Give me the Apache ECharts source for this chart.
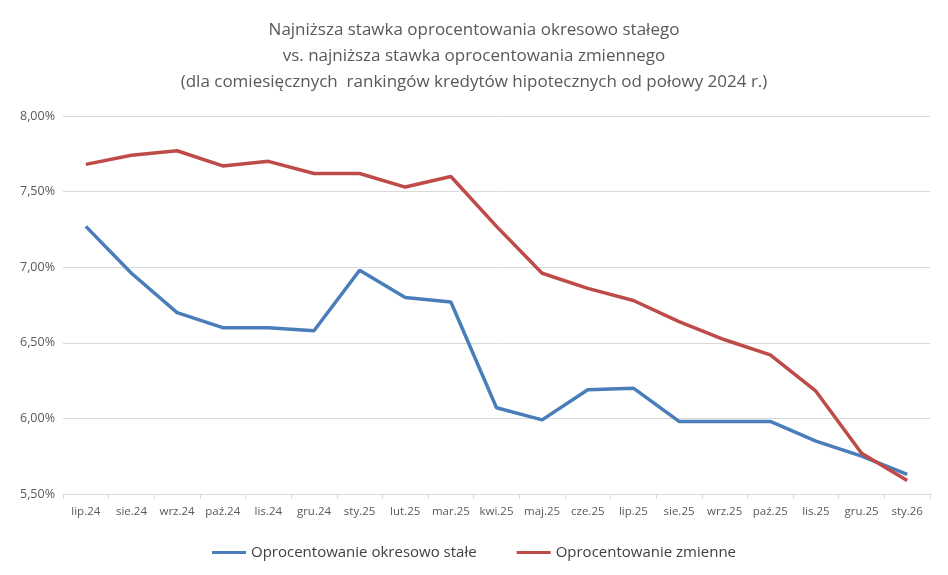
<!DOCTYPE html>
<html><head><meta charset="utf-8">
<script src="https://cdn.jsdelivr.net/npm/echarts@6/dist/echarts.min.js"></script>
<style>html,body{margin:0;background:#fff}#c{width:948px;height:575px}</style>
</head><body><div id="c"></div>
<script>
var months = ['lip.24','sie.24','wrz.24','paź.24','lis.24','gru.24','sty.25','lut.25','mar.25','kwi.25','maj.25','cze.25','lip.25','sie.25','wrz.25','paź.25','lis.25','gru.25','sty.26'];
var fixedRate = [7.27,6.96,6.70,6.60,6.60,6.58,6.98,6.80,6.77,6.07,5.99,6.19,6.20,5.98,5.98,5.98,5.85,5.75,5.63];
var variableRate = [7.68,7.74,7.77,7.67,7.70,7.62,7.62,7.53,7.60,7.27,6.96,6.86,6.78,6.64,6.52,6.42,6.18,5.77,5.59];

var chart = echarts.init(document.getElementById('c'));
chart.setOption({
    textStyle: {fontFamily: 'Open Sans'},
    title: {
        text: 'Najniższa stawka oprocentowania okresowo stałego\nvs. najniższa stawka oprocentowania zmiennego\n(dla comiesięcznych  rankingów kredytów hipotecznych od połowy 2024 r.)',
        left: 'center', top: 12,
        textStyle: {fontSize: 17, fontWeight: 'normal', color: '#595959', lineHeight: 26, fontFamily: 'Open Sans'}
    },
    legend: {
        bottom: 10, itemWidth: 34, itemHeight: 3, itemGap: 40, icon: 'rect',
        textStyle: {fontSize: 15, color: '#404040'}
    },
    grid: {left: 63, right: 18, top: 116, bottom: 81},
    xAxis: {
        type: 'category', data: months, boundaryGap: true,
        axisLine: {lineStyle: {color: '#d9d9d9'}},
        axisTick: {show: true, interval: 0, lineStyle: {color: '#d9d9d9'}},
        axisLabel: {color: '#595959', fontSize: 11.5, interval: 0, margin: 12}
    },
    yAxis: {
        type: 'value', min: 5.5, max: 8, interval: 0.5,
        axisLabel: {color: '#595959', fontSize: 12.5, formatter: function (v) { return v.toFixed(2).replace('.', ',') + '%'; }},
        splitLine: {lineStyle: {color: '#d9d9d9'}},
        axisLine: {show: false}
    },
    series: [
        {name: 'Oprocentowanie okresowo stałe', type: 'line', data: fixedRate, symbol: 'none',
         lineStyle: {width: 3.5, color: '#4a7ebb'}, itemStyle: {color: '#4a7ebb'}},
        {name: 'Oprocentowanie zmienne', type: 'line', data: variableRate, symbol: 'none',
         lineStyle: {width: 3.5, color: '#be4b48'}, itemStyle: {color: '#be4b48'}}
    ]
});
</script></body></html>
